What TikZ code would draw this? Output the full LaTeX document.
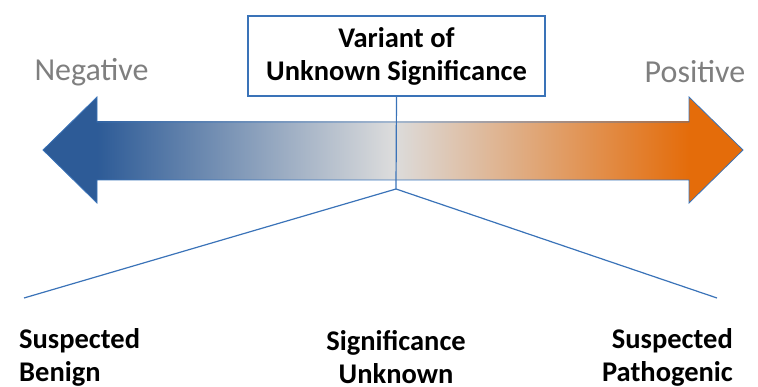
\documentclass[tikz,border=0pt]{standalone}
\usepackage{fontspec}
\setmainfont{Carlito}
\usepackage{xcolor}
\definecolor{colorBlueEnd}{HTML}{2D5B97}
\definecolor{colorOrangeEnd}{HTML}{E46C0A}
\definecolor{colorMiddle}{HTML}{DCDCDC}
\definecolor{colorLine}{HTML}{3A73B8}
\definecolor{colorSide}{HTML}{7F7F7F}
\usetikzlibrary{positioning}
\tikzset{
  boxlabel/.style={draw=colorLine, line width=1.6pt, align=center,
    font=\fontsize{28.5}{33}\selectfont\bfseries,
    minimum width=297pt, minimum height=80pt, inner sep=0pt},
  endlabel/.style={font=\fontsize{32}{33}\selectfont, text=colorSide, inner sep=0pt},
  catlabel/.style={font=\fontsize{28.5}{33}\selectfont\bfseries, inner sep=0pt},
  branch/.style={draw=colorLine, line width=1.2pt}
}

\begin{document}
\begin{tikzpicture}[x=1pt, y=-1pt]
\useasboundingbox (0,0) rectangle (758,387);
% the scale arrow
\shade[left color=colorBlueEnd, right color=colorOrangeEnd, middle color=colorMiddle] (97,122) rectangle (689,180);
\fill[colorBlueEnd] (97,97) -- (43,150) -- (97,203) -- cycle;
\fill[colorOrangeEnd] (689,97) -- (743,150) -- (689,203) -- cycle;
\draw[colorLine, line width=0.8pt] (97,122) -- (689,122) -- (689,97) -- (743,150) -- (689,203) -- (689,180)
  -- (97,180) -- (97,203) -- (43,150) -- (97,97) -- cycle;

\node[boxlabel, fill=white] (vus) at (396.5,56) {Variant of\\Unknown Significance};
\node[endlabel] (neg) at (91.5,72) {Negative};
\node[endlabel] (pos) at (695,72) {Positive};

\coordinate (apex) at (396,189);
\coordinate (benignend) at (24,298);
\coordinate (pathoend) at (717,298);
\draw[branch] (vus.south) -- (apex);
\draw[branch] (benignend) -- (apex) -- (pathoend);

\node[catlabel, anchor=west, align=left] (benign) at (19,357) {Suspected\\Benign};
\node[catlabel, align=center] (unknown) at (396,357) {Significance\\Unknown};
\node[catlabel, anchor=east, align=right] (patho) at (733,357) {Suspected\\Pathogenic};
\end{tikzpicture}
\end{document}
